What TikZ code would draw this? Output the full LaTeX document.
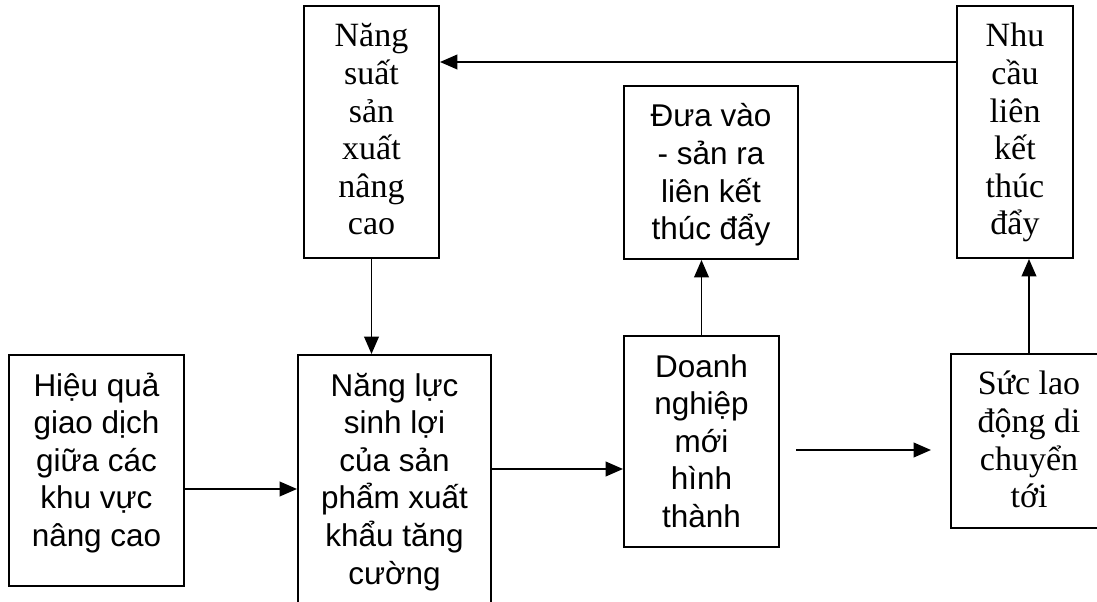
\documentclass[tikz,border=0pt]{standalone}
\usepackage{fontspec}
\setmainfont{Liberation Serif}
\setsansfont{Liberation Sans}
\usetikzlibrary{arrows.meta}

\newcommand{\serifsize}{\fontsize{25.5pt}{28.2pt}\selectfont}
\newcommand{\sanssize}{\sffamily\fontsize{23.6pt}{28.2pt}\selectfont}
\newcommand{\boxtext}[3]{\parbox[c][#1][t]{#2}{\centering\rule{0pt}{30.75pt}#3}}

\begin{document}
\begin{tikzpicture}[x=0.75pt,y=-0.75pt,
  boxnode/.style={draw,line width=1.5pt,inner sep=0pt,anchor=north west},
  arr/.style={-{Triangle[length=13pt,width=11pt]},line width=1.2pt}]
  \useasboundingbox (0,0) rectangle (1097,602);
  \clip (0,0) rectangle (1097,602);

  % Top row
  \node[boxnode,font=\serifsize] (ns) at (303,5)
    {\boxtext{189pt}{101.25pt}{Năng\\suất\\sản\\xuất\\nâng\\cao}};
  \node[boxnode,font=\sanssize] (dv) at (623,85)
    {\boxtext{129.75pt}{130.5pt}{Đưa vào\\- sản ra\\liên kết\\thúc đẩy}};
  \node[boxnode,font=\serifsize] (nc) at (956,5)
    {\boxtext{189pt}{87pt}{Nhu\\cầu\\liên\\kết\\thúc\\đẩy}};

  % Bottom row
  \node[boxnode,font=\sanssize] (hq) at (8,354)
    {\boxtext{173.25pt}{131.25pt}{Hiệu quả\\giao dịch\\giữa các\\khu vực\\nâng cao}};
  \node[boxnode,font=\sanssize] (nl) at (297,354)
    {\boxtext{202.5pt}{144.75pt}{Năng lực\\sinh lợi\\của sản\\phẩm xuất\\khẩu tăng\\cường}};
  \node[boxnode,font=\sanssize] (dn) at (623,335)
    {\boxtext{158.25pt}{116.25pt}{Doanh\\nghiệp\\mới\\hình\\thành}};
  \node[boxnode,font=\serifsize] (sl) at (950,353)
    {\boxtext{130.5pt}{117pt}{Sức lao\\động di\\chuyển\\tới}};

  % Connectors
  \coordinate (topline) at (0,62);
  \coordinate (hqline) at (0,489);
  \coordinate (nlline) at (0,469);
  \coordinate (freeA) at (796,450);
  \coordinate (freeB) at (931,450);
  \draw[arr] (nc.west |- topline) -- (ns.east |- topline);
  \draw[arr] (ns.south) -- (ns.south |- nl.north);
  \draw[arr] (hq.east |- hqline) -- (nl.west |- hqline);
  \draw[arr] (nl.east |- nlline) -- (dn.west |- nlline);
  \draw[arr] (dn.north) -- (dn.north |- dv.south);
  \draw[arr] (freeA) -- (freeB);
  \draw[arr] (sl.north) -- (sl.north |- nc.south);
\end{tikzpicture}
\end{document}
